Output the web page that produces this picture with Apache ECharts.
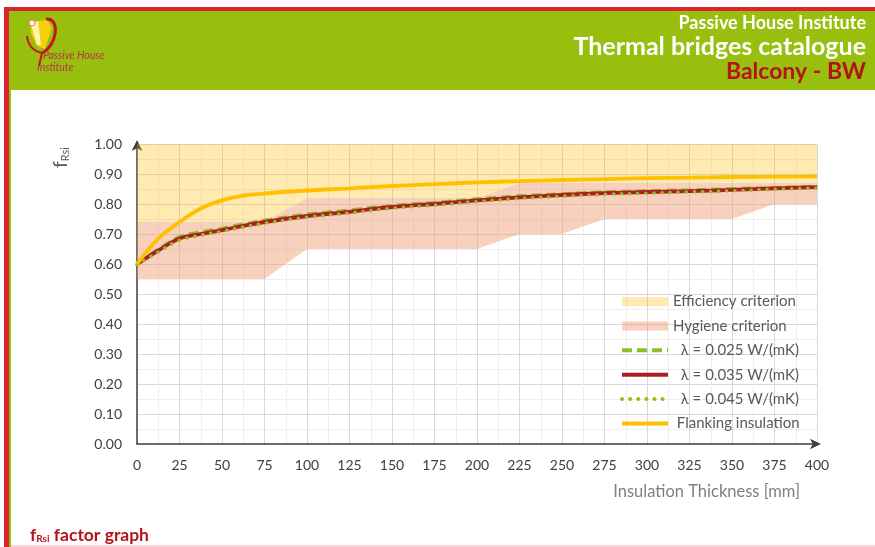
<!DOCTYPE html>
<html>
<head>
<meta charset="utf-8">
<script src="https://cdn.jsdelivr.net/npm/echarts@6/dist/echarts.min.js"></script>
<style>
html,body{margin:0;padding:0;background:#fff;}
#chart{width:875px;height:547px;}
</style>
</head>
<body>
<div id="chart"></div>
<script>
// ---- data ----
const thickness = [0, 12.5, 25, 37.5, 50, 62.5, 75, 100, 125, 150, 175, 200, 225, 250, 275, 300, 325, 350, 375, 400];
const lambda025 = [0.600, 0.648, 0.690, 0.706, 0.718, 0.732, 0.745, 0.765, 0.779, 0.794, 0.804, 0.816, 0.826, 0.833, 0.839, 0.843, 0.846, 0.850, 0.854, 0.858];
const lambda035 = [0.600, 0.645, 0.685, 0.700, 0.713, 0.727, 0.740, 0.760, 0.774, 0.790, 0.800, 0.812, 0.822, 0.830, 0.836, 0.840, 0.843, 0.847, 0.852, 0.856];
const lambda045 = [0.598, 0.640, 0.679, 0.696, 0.709, 0.723, 0.736, 0.756, 0.770, 0.786, 0.796, 0.808, 0.818, 0.826, 0.832, 0.836, 0.840, 0.844, 0.849, 0.853];
const flanking  = [0.600, 0.685, 0.740, 0.785, 0.812, 0.828, 0.835, 0.845, 0.852, 0.860, 0.866, 0.872, 0.876, 0.880, 0.883, 0.886, 0.888, 0.890, 0.891, 0.892];

const bandThickness = [0, 75, 100, 200, 225, 250, 275, 350, 375, 400];
const hygieneLower  = [0.55, 0.55, 0.65, 0.65, 0.70, 0.70, 0.75, 0.75, 0.80, 0.80];
const hygieneUpper  = [0.74, 0.74, 0.82, 0.82, 0.87, 0.87, 0.87, 0.87, 0.87, 0.87];
const efficiencyUpper = [1.00, 1.00, 1.00, 1.00, 1.00, 1.00, 1.00, 1.00, 1.00, 1.00];

const seriesNames = ['Efficiency criterion', 'Hygiene criterion', '  λ = 0.025 W/(mK)', '  λ = 0.035 W/(mK)', '  λ = 0.045 W/(mK)', ' Flanking insulation'];
const yTickLabels = ['0.00','0.10','0.20','0.30','0.40','0.50','0.60','0.70','0.80','0.90','1.00'];

// ---- helpers ----
const pairs = (xs, ys) => xs.map((x, i) => [x, ys[i]]);
function bandSeries(name, lower, upper, color) {
  return {
    name: name, type: 'custom', coordinateSystem: 'cartesian2d',
    data: [[bandThickness[0], lower[0]]],
    itemStyle: {color: color},
    silent: true, z: 1,
    renderItem: function (params, api) {
      const pts = [];
      for (let i = 0; i < bandThickness.length; i++) pts.push(api.coord([bandThickness[i], lower[i]]));
      for (let i = bandThickness.length - 1; i >= 0; i--) pts.push(api.coord([bandThickness[i], upper[i]]));
      return {type: 'polygon', shape: {points: pts}, style: {fill: color}};
    }
  };
}

const FONT = 'Lato';
const chart = echarts.init(document.getElementById('chart'), null, {renderer: 'canvas'});
const hiddenSymbol = {opacity: 0};

const option = {
  animation: false,
  backgroundColor: '#ffffff',
  textStyle: {fontFamily: FONT},
  grid: {left: 137, right: 58, top: 144, bottom: 103, containLabel: false},
  xAxis: {
    type: 'value', min: 0, max: 400, interval: 25,
    axisLine: {show: true, lineStyle: {color: '#404040', width: 1.5}, symbol: ['none', 'arrow'], symbolSize: [8, 11], symbolOffset: [0, 4]},
    axisTick: {show: false},
    axisLabel: {color: '#404040', fontSize: 14, fontFamily: FONT, margin: 14},
    splitLine: {show: true, lineStyle: {color: '#d9d9d9', width: 1}},
    minorTick: {show: false, splitNumber: 2},
    minorSplitLine: {show: true, lineStyle: {color: '#eeeeee', width: 1}}
  },
  yAxis: {
    type: 'value', min: 0, max: 1, interval: 0.1,
    axisLine: {show: true, lineStyle: {color: '#404040', width: 1.5}, symbol: ['none', 'arrow'], symbolSize: [8, 11], symbolOffset: [0, 4]},
    axisTick: {show: false},
    axisLabel: {color: '#404040', fontSize: 14, fontFamily: FONT, margin: 15,
      formatter: (v) => yTickLabels[Math.round(v * 10)]},
    splitLine: {show: true, lineStyle: {color: '#d9d9d9', width: 1}},
    minorTick: {show: false, splitNumber: 2},
    minorSplitLine: {show: true, lineStyle: {color: '#eeeeee', width: 1}}
  },
  legend: {
    orient: 'vertical', left: 620, top: 294, padding: 0, itemWidth: 46, itemHeight: 9, itemGap: 9.4,
    textStyle: {fontSize: 15, color: '#595959', fontFamily: FONT, lineHeight: 15},
    data: [
      {name: seriesNames[0], icon: 'rect'},
      {name: seriesNames[1], icon: 'rect'},
      {name: seriesNames[2], itemStyle: hiddenSymbol, lineStyle: {width: 4}},
      {name: seriesNames[3], itemStyle: hiddenSymbol, lineStyle: {width: 4}},
      {name: seriesNames[4], itemStyle: hiddenSymbol, lineStyle: {width: 4}},
      {name: seriesNames[5], itemStyle: hiddenSymbol, lineStyle: {width: 4}}
    ]
  },
  series: [
    bandSeries(seriesNames[1], hygieneLower, hygieneUpper, 'rgba(240,150,110,0.45)'),
    bandSeries(seriesNames[0], hygieneUpper, efficiencyUpper, 'rgba(255,190,0,0.30)'),
    {name: seriesNames[2], type: 'line', symbol: 'none', smooth: 0.35,
     data: pairs(thickness, lambda025), itemStyle: {color: '#8fbf26'},
     lineStyle: {color: '#8fbf26', width: 3.8, type: [10, 5]}, z: 3},
    {name: seriesNames[3], type: 'line', symbol: 'none', smooth: 0.35,
     data: pairs(thickness, lambda035), itemStyle: {color: '#b01c24'},
     lineStyle: {color: '#b01c24', width: 3.8}, z: 4},
    {name: seriesNames[4], type: 'line', symbol: 'none', smooth: 0.35,
     data: pairs(thickness, lambda045), itemStyle: {color: '#8fc21f'},
     lineStyle: {color: '#8fc21f', width: 3.5, type: [0.1, 8], cap: 'round'}, z: 5},
    {name: seriesNames[5], type: 'line', symbol: 'none', smooth: 0.35,
     data: pairs(thickness, flanking), itemStyle: {color: '#ffc000'},
     lineStyle: {color: '#ffc000', width: 3.8}, z: 6}
  ],
  graphic: [
    // page frame
    {type: 'rect', shape: {x: 4, y: 7, width: 871, height: 4}, style: {fill: '#d9262e'}, silent: true},
    {type: 'rect', shape: {x: 4, y: 7, width: 5, height: 540}, style: {fill: '#d9262e'}, silent: true},
    {type: 'rect', shape: {x: 9, y: 11, width: 866, height: 79}, style: {fill: '#98bf0d'}, silent: true},
    {type: 'rect', shape: {x: 9, y: 90, width: 2, height: 457}, style: {fill: '#98bf0d'}, silent: true},
    {type: 'rect', shape: {x: 11, y: 545, width: 864, height: 2}, style: {fill: '#f7d5d8'}, silent: true},
    // header texts
    {type: 'text', x: 866, y: 23, style: {text: 'Passive House Institute', fill: '#ffffff', font: 'bold 18px Lato', align: 'right', verticalAlign: 'middle'}, silent: true},
    {type: 'text', x: 866, y: 47, style: {text: 'Thermal bridges catalogue', fill: '#ffffff', font: 'bold 25px Lato', align: 'right', verticalAlign: 'middle'}, silent: true},
    {type: 'text', x: 866, y: 72, style: {text: 'Balcony - BW', fill: '#b5121b', font: 'bold 23px Lato', align: 'right', verticalAlign: 'middle'}, silent: true},
    // logo
    {type: 'polygon', shape: {points: [[30, 22], [47, 20], [52, 28], [45, 49], [37, 46], [31, 33]]}, style: {fill: '#f5cf10'}, silent: true},
    {type: 'polygon', shape: {points: [[31, 24], [38, 21], [41, 45], [37, 45]]}, style: {fill: '#fff3b0'}, silent: true},
    {type: 'bezierCurve', shape: {x1: 46, y1: 19, cpx1: 60, cpy1: 17, cpx2: 58, cpy2: 45, x2: 42, y2: 53}, style: {fill: 'none', stroke: '#c4161c', lineWidth: 3}, silent: true},
    {type: 'bezierCurve', shape: {x1: 27, y1: 36, cpx1: 28, cpy1: 45, cpx2: 33, cpy2: 51, x2: 42, y2: 53}, style: {fill: 'none', stroke: '#c4161c', lineWidth: 2}, silent: true},
    {type: 'line', shape: {x1: 42, y1: 53, x2: 39, y2: 66}, style: {stroke: '#c4161c', lineWidth: 2}, silent: true},
    {type: 'circle', shape: {cx: 32, cy: 23, r: 3}, style: {fill: '#fff6dd', stroke: '#d98080', lineWidth: 1}, silent: true},
    {type: 'text', x: 43, y: 56, style: {text: 'Passive House', fill: '#c0304a', font: 'italic 10.5px Lato', verticalAlign: 'middle'}, silent: true},
    {type: 'text', x: 37, y: 68, style: {text: 'Institute', fill: '#c0304a', font: 'italic 10.5px Lato', verticalAlign: 'middle'}, silent: true},
    // y axis name
    {type: 'text', x: 61, y: 168, rotation: Math.PI / 2,
     style: {text: '{f|f}{s|Rsi}', rich: {f: {font: '19px Lato', fill: '#595959'}, s: {font: '11px Lato', fill: '#595959', padding: [9, 0, 0, 0]}}, verticalAlign: 'middle'}, silent: true},
    // x axis name
    {type: 'text', x: 800, y: 492, style: {text: 'Insulation Thickness [mm]', fill: '#7f7f7f', font: '16.5px Lato', align: 'right', verticalAlign: 'middle'}, silent: true},
    // footer title
    {type: 'text', x: 30, y: 535, style: {text: '{f|f}{s|Rsi}{t| factor graph}', rich: {f: {font: 'bold 17.5px Lato', fill: '#b5121b'}, s: {font: 'bold 10px Lato', fill: '#b5121b', padding: [8, 0, 0, 0]}, t: {font: 'bold 17.5px Lato', fill: '#b5121b'}}, verticalAlign: 'middle'}, silent: true}
  ]
};
chart.setOption(option);
</script>
</body>
</html>
